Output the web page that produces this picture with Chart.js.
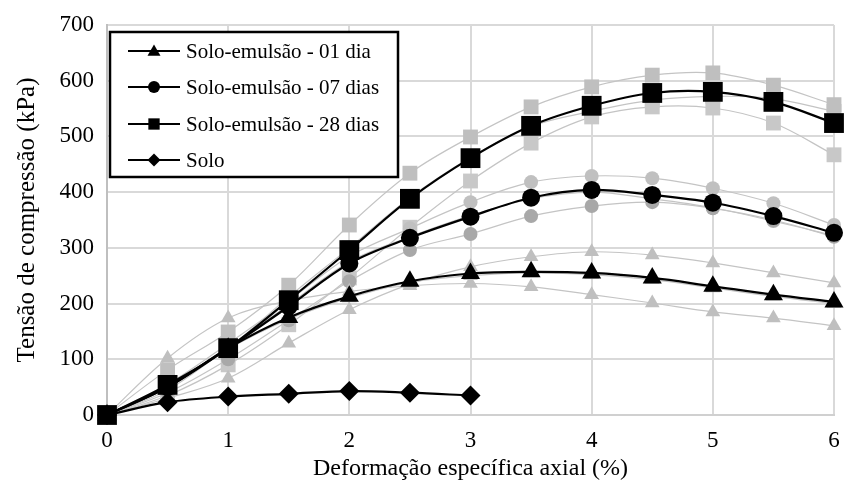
<!DOCTYPE html>
<html>
<head>
<meta charset="utf-8">
<script src="https://cdn.jsdelivr.net/npm/chart.js@4.4.1/dist/chart.umd.min.js"></script>
<style>
html,body{margin:0;padding:0;background:#fff;}
#wrap{width:848px;height:489px;}
</style>
</head>
<body>
<div id="wrap"><canvas id="c" width="848" height="489"></canvas></div>
<script>
// ---- data ----
const strainPct = [0, 0.5, 1, 1.5, 2, 2.5, 3, 3.5, 4, 4.5, 5, 5.5, 6];
const strainSolo = [0, 0.5, 1, 1.5, 2, 2.5, 3];

const mix01Mean = [0, 50, 120, 175, 213, 240, 254, 257, 255, 246, 231, 216, 203];
const mix01RepA = [0, 102, 174, 205, 222, 232, 236, 230, 216, 201, 185, 174, 160];
const mix01RepB = [0, 30, 66, 129, 189, 235, 266, 284, 293, 287, 273, 255, 237];
const mix01RepC = [0, 45, 118, 172, 210, 238, 250, 255, 252, 243, 228, 213, 200];

const mix07Mean = [0, 50, 120, 195, 272, 318, 356, 390, 404, 395, 381, 357, 327];
const mix07RepA = [0, 55, 128, 205, 285, 335, 382, 418, 429, 425, 407, 380, 341];
const mix07RepB = [0, 40, 100, 170, 240, 296, 325, 357, 375, 382, 371, 350, 320];
const mix07RepC = [0, 52, 122, 198, 275, 320, 358, 388, 400, 388, 372, 348, 322];

const mix28Mean = [0, 54, 120, 206, 296, 388, 461, 519, 555, 578, 580, 562, 524];
const mix28RepA = [0, 81, 149, 233, 341, 434, 499, 553, 589, 610, 614, 592, 557];
const mix28RepB = [0, 35, 90, 162, 246, 337, 420, 488, 535, 553, 551, 524, 467];
const mix28RepC = [0, 50, 120, 212, 300, 390, 462, 518, 545, 565, 572, 568, 545];

const soloMean = [0, 23, 33, 38, 43, 40, 35];

const seriesLabels = ['Solo-emulsão - 01 dia', 'Solo-emulsão - 07 dias', 'Solo-emulsão - 28 dias', 'Solo'];
const xTicks = [0, 1, 2, 3, 4, 5, 6];
const yTicks = [0, 100, 200, 300, 400, 500, 600, 700];

// ---- build ----
const FONT = "'Liberation Serif', 'Times New Roman', serif";
function pts(xs, ys){ return ys.map((v,i)=>({x:xs[i], y:v})); }
function grayDs(ys, style, r, color){
  return { data: pts(strainPct, ys), borderColor:'#c4c4c4', borderWidth:1.2,
    pointStyle: style, pointRadius: r, pointBackgroundColor: color, pointBorderColor: color,
    pointBorderWidth:0, tension:0.35, order:10, clip:false, label:'' };
}
function blackDs(xs, ys, style, r, label, order){
  return { data: pts(xs, ys), borderColor:'#000', borderWidth:2.2,
    pointStyle: style, pointRadius: r, pointBackgroundColor:'#000', pointBorderColor:'#000',
    pointBorderWidth:0, tension:0.35, order: order, clip:false, label: label };
}
const datasets = [
  grayDs(mix01RepA,'triangle',8.5,'#bfbfbf'),
  grayDs(mix01RepB,'triangle',8.5,'#bfbfbf'),
  grayDs(mix01RepC,'triangle',8.5,'#bfbfbf'),
  grayDs(mix07RepA,'circle',7,'#c0c0c0'),
  grayDs(mix07RepB,'circle',7,'#a8a8a8'),
  grayDs(mix07RepC,'circle',7,'#b4b4b4'),
  grayDs(mix28RepA,'rect',10.5,'#bfbfbf'),
  grayDs(mix28RepB,'rect',10.5,'#c8c8c8'),
  grayDs(mix28RepC,'rect',10.5,'#c4c4c4'),
  blackDs(strainPct, mix01Mean,'triangle',11,seriesLabels[0],3),
  blackDs(strainPct, mix07Mean,'circle',9,seriesLabels[1],2),
  blackDs(strainPct, mix28Mean,'rect',14,seriesLabels[2],1),
  blackDs(strainSolo, soloMean,'rectRot',10,seriesLabels[3],0)
];

function marker(ctx, style, x, y, r){
  ctx.beginPath();
  if(style==='triangle'){
    ctx.moveTo(x, y - r);
    ctx.lineTo(x + r*0.866, y + r*0.5);
    ctx.lineTo(x - r*0.866, y + r*0.5);
    ctx.closePath();
  } else if(style==='circle'){
    ctx.arc(x, y, r, 0, Math.PI*2);
  } else if(style==='rect'){
    const s = r*0.7071;
    ctx.rect(x - s, y - s, 2*s, 2*s);
  } else if(style==='rectRot'){
    ctx.moveTo(x, y - r); ctx.lineTo(x + r, y); ctx.lineTo(x, y + r); ctx.lineTo(x - r, y); ctx.closePath();
  }
  ctx.fill();
}

const legendPlugin = {
  id:'boxLegend',
  afterDraw(chart){
    const ctx = chart.ctx;
    const L = 110, T = 32, R = 398, B = 177;
    ctx.save();
    ctx.fillStyle = '#fff';
    ctx.fillRect(L, T, R-L, B-T);
    ctx.lineWidth = 2.5;
    ctx.strokeStyle = '#000';
    ctx.strokeRect(L, T, R-L, B-T);
    const styles = ['triangle','circle','rect','rectRot'];
    const radii = [7.5, 6, 8, 6.5];
    const rows = [51, 87, 124, 160];
    ctx.font = '21px ' + FONT;
    ctx.textBaseline = 'middle';
    ctx.textAlign = 'left';
    for(let i=0;i<4;i++){
      const y = rows[i];
      ctx.strokeStyle = '#000'; ctx.lineWidth = 2;
      ctx.beginPath(); ctx.moveTo(128, y); ctx.lineTo(180, y); ctx.stroke();
      ctx.fillStyle = '#000';
      marker(ctx, styles[i], 154, y + (styles[i]==='triangle'?1:0), radii[i]);
      ctx.fillText(seriesLabels[i], 186, y + 1);
    }
    ctx.restore();
  }
};

new Chart(document.getElementById('c'), {
  type:'line',
  data:{ datasets },
  plugins:[legendPlugin],
  options:{
    responsive:false,
    animation:false,
    layout:{ padding:{ left:0, right:13, top:25, bottom:0 } },
    plugins:{ legend:{display:false}, tooltip:{enabled:false} },
    scales:{
      x:{
        type:'linear', min:0, max:6,
        afterBuildTicks(s){ s.ticks = xTicks.map(v=>({value:v})); },
        afterFit(s){ s.height = 74; s.paddingLeft = 0; s.paddingRight = 0; },
        ticks:{ font:{family:FONT, size:23}, color:'#000', padding:12 },
        grid:{ color:'#d9d9d9', lineWidth:2, drawTicks:false },
        border:{ color:'#d0d0d0', width:2 },
        title:{ display:true, text:'Deformação específica axial (%)', font:{family:FONT, size:24}, color:'#000', padding:{top:2, bottom:6} }
      },
      y:{
        type:'linear', min:0, max:700,
        afterBuildTicks(s){ s.ticks = yTicks.map(v=>({value:v})); },
        afterFit(s){ s.width = 107; s.paddingTop = 0; s.paddingBottom = 0; },
        ticks:{ font:{family:FONT, size:23}, color:'#000', padding:13 },
        grid:{ color:'#d9d9d9', lineWidth:2, drawTicks:false },
        border:{ color:'#bfbfbf', width:2 },
        title:{ display:true, text:'Tensão de compressão (kPa)', font:{family:FONT, size:25}, color:'#000', padding:{top:12, bottom:0} }
      }
    }
  }
});
</script>
</body>
</html>
